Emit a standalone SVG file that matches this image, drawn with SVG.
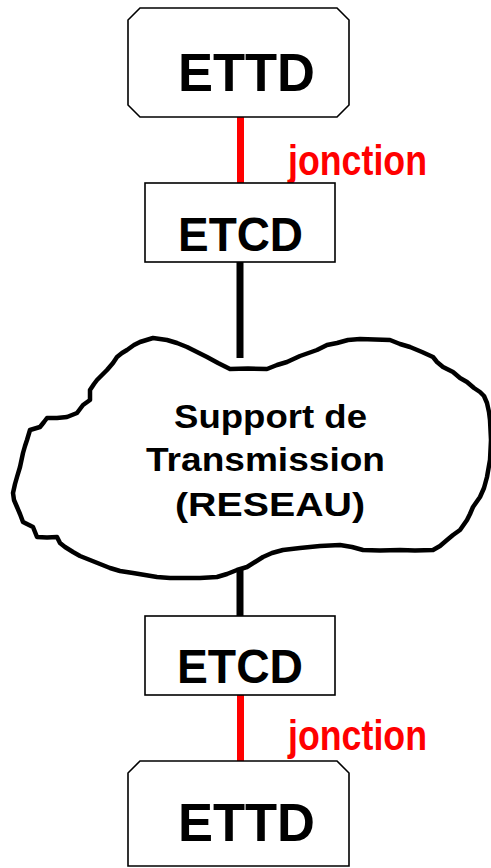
<svg xmlns="http://www.w3.org/2000/svg" width="491" height="868" viewBox="0 0 491 868">
<style>
.box{fill:#fff;stroke:#000;stroke-width:1.6}
.lbl{font-family:"Liberation Sans",Arial,sans-serif;font-weight:bold;fill:#000}
.red{font-family:"Liberation Sans",Arial,sans-serif;font-weight:bold;fill:#ff0000}
.wire{stroke:#000;stroke-width:7;fill:none}
.jct{stroke:#ff0000;stroke-width:7;fill:none}
.cloud{fill:#fff;stroke:#000;stroke-width:4.5;stroke-linejoin:round}
</style>
<rect width="491" height="868" fill="#fff"/>
<g id="connectors">
<line class="jct" x1="240.5" y1="117" x2="240.5" y2="183"/>
<line class="wire" x1="240" y1="262" x2="240" y2="358"/>
<line class="wire" x1="240" y1="565" x2="240" y2="616"/>
<line class="jct" x1="240.5" y1="695" x2="240.5" y2="761"/>
<text class="red" x="288" y="175" font-size="43" textLength="139" lengthAdjust="spacingAndGlyphs">jonction</text>
<text class="red" x="288" y="750" font-size="43" textLength="139" lengthAdjust="spacingAndGlyphs">jonction</text>
</g>
<g id="ettd-top">
<path class="box" d="M140,8 H337 L349,20 V105 L337,117 H140 L128,105 V20 Z"/>
<text class="lbl" x="178" y="90.5" font-size="53" textLength="137" lengthAdjust="spacingAndGlyphs">ETTD</text>
</g>
<g id="etcd-top">
<rect class="box" x="145" y="183" width="190" height="79"/>
<text class="lbl" x="178" y="251" font-size="48" textLength="125" lengthAdjust="spacingAndGlyphs">ETCD</text>
</g>
<g id="reseau">
<path class="cloud" d="M230,369 L248,368.5 L267,369 L277,365 L287,362 L300,356 L317,350 L327,345 L337,343 L348,340 L360,339 L375,339.5 L390,340 L400,344 L410,347 L422,352 L433,357 L437,362 L443,367 L453,372 L460,378 L467,382 L474,388 L480,392 L484,396 L487,403 L489,412 L490,420 L491,440 L490,460 L487,477 L484,488 L480,497 L473,507 L470,514 L467,520 L460,530 L453,535 L447,540 L440,546 L433,550 L415,550.5 L400,550 L380,550.5 L363,550 L352,547 L340,545 L320,546 L300,548 L283,550 L272,553 L263,557 L255,562 L247,567 L237,570 L227,574 L217,577 L200,578 L187,578 L170,578 L157,577 L145,575 L133,573 L120,571 L110,568 L100,564 L90,560 L80,556 L73,552 L65,547 L60,543 L57,537 L47,537.5 L37,537 L33,527 L23,522 L20,514 L17,507 L14,500 L13,493 L15,484 L17,477 L20,467 L23,453 L25,446 L27,440 L30,430 L40,427 L44,422 L47,418 L57,418 L67,417 L77,413 L83,405 L90,400 L90,390 L94,384 L97,380 L102,375 L107,370 L113,363 L117,357 L122,353 L127,350 L134,345 L140,342 L153,338 L160,339 L167,340 L177,343 L187,347 L197,352 L207,357 L218,363 Z"/>
<text class="lbl" x="174" y="428" font-size="34" textLength="193" lengthAdjust="spacingAndGlyphs">Support de</text>
<text class="lbl" x="146" y="471" font-size="34" textLength="239" lengthAdjust="spacingAndGlyphs">Transmission</text>
<text class="lbl" x="175" y="516" font-size="34" textLength="190" lengthAdjust="spacingAndGlyphs">(RESEAU)</text>
</g>
<g id="etcd-bottom">
<rect class="box" x="145" y="616" width="190" height="79"/>
<text class="lbl" x="177" y="683" font-size="48" textLength="126" lengthAdjust="spacingAndGlyphs">ETCD</text>
</g>
<g id="ettd-bottom">
<path class="box" d="M140,761 H337 L349,773 V866 L128,866 V773 Z"/>
<text class="lbl" x="178" y="841" font-size="53" textLength="137" lengthAdjust="spacingAndGlyphs">ETTD</text>
</g>
</svg>
